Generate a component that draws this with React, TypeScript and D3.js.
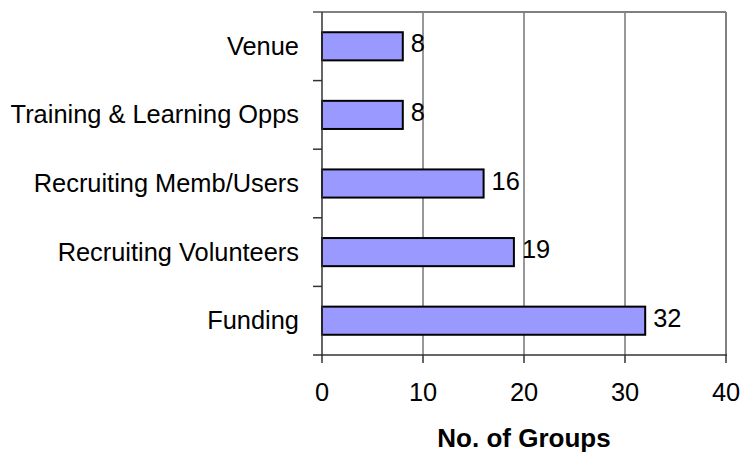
import React from "react";
import * as d3 from "d3";

const categories = ["Venue", "Training & Learning Opps", "Recruiting Memb/Users", "Recruiting Volunteers", "Funding"];
const values = [8, 8, 16, 19, 32];
const xTicks = [0, 10, 20, 30, 40];
const xTitle = "No. of Groups";

export default function App() {
  const W = 743, H = 455;
  const left = 322, right = 726, top = 12, bottom = 355;
  const x = d3.scaleLinear().domain([0, 40]).range([left, right]);
  const y = d3.scaleBand<string>().domain(categories).range([top, bottom]).paddingInner(0.59).paddingOuter(0.295);
  const step = (bottom - top) / categories.length;
  const font = "Liberation Sans, Arial, sans-serif";
  return (
    <svg width={W} height={H} style={{ position: "absolute", left: 0, top: 0 }} fontFamily={font}>
      <rect x={0} y={0} width={W} height={H} fill="white" />
      {xTicks.slice(1, -1).map((t) => (
        <line key={t} x1={x(t)} x2={x(t)} y1={top} y2={bottom} stroke="#333" strokeWidth={1} />
      ))}
      <line x1={left - 9} x2={right} y1={top} y2={top} stroke="#808080" strokeWidth={2} />
      <line x1={right} x2={right} y1={top} y2={bottom} stroke="#808080" strokeWidth={2} />
      {categories.map((c, i) => (
        <line key={c} x1={left - 9} x2={left} y1={top + step * (i + 1)} y2={top + step * (i + 1)} stroke="#333" strokeWidth={1.5} />
      ))}
      {categories.map((c, i) => (
        <g key={c}>
          <rect x={x(0)} y={y(c)!} width={x(values[i]) - x(0)} height={y.bandwidth()} fill="#9999FF" stroke="black" strokeWidth={2} />
          <text x={x(values[i]) + 8} y={y(c)! + y.bandwidth() / 2 + 6} fontSize={25.4} fill="black">{values[i]}</text>
          <text x={299} y={y(c)! + y.bandwidth() / 2 + 8.5} fontSize={25.4} textAnchor="end" fill="black">{c}</text>
        </g>
      ))}
      <line x1={left} x2={left} y1={top} y2={bottom} stroke="#333" strokeWidth={1.5} />
      <line x1={left - 1} x2={right + 1} y1={bottom} y2={bottom} stroke="#333" strokeWidth={1.5} />
      {xTicks.map((t) => (
        <g key={t}>
          <line x1={x(t)} x2={x(t)} y1={bottom} y2={bottom + 8} stroke="#333" strokeWidth={1.5} />
          <text x={x(t)} y={401} fontSize={25.4} textAnchor="middle" fill="black">{t}</text>
        </g>
      ))}
      <text x={524} y={447} fontSize={26} fontWeight="bold" textAnchor="middle" fill="black">{xTitle}</text>
    </svg>
  );
}
